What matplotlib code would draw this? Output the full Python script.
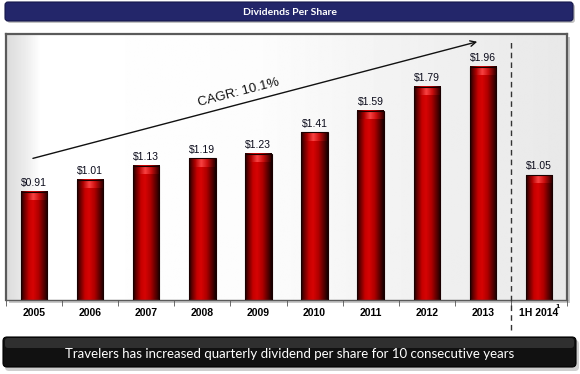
import numpy as np
import matplotlib.pyplot as plt
from matplotlib.patches import FancyBboxPatch, Rectangle
from matplotlib.colors import LinearSegmentedColormap

years = ["2005", "2006", "2007", "2008", "2009", "2010", "2011", "2012", "2013", "1H 2014"]
dividends = [0.91, 1.01, 1.13, 1.19, 1.23, 1.41, 1.59, 1.79, 1.96, 1.05]
title = "Dividends Per Share"
footer = "Travelers has increased quarterly dividend per share for 10 consecutive years"
cagr_label = "CAGR: 10.1%"

W, H = 580, 374
fig = plt.figure(figsize=(W / 100, H / 100), dpi=100)

# background layer in pixel coordinates
bg = fig.add_axes([0, 0, 1, 1])
bg.set_xlim(0, W)
bg.set_ylim(H, 0)
bg.axis("off")

# title banner
bg.add_patch(FancyBboxPatch((7, 4), 568, 19, boxstyle="round,pad=0,rounding_size=3",
                            fc="#9a9a9a", ec="none", alpha=0.6))
bg.add_patch(FancyBboxPatch((5, 2), 568, 19, boxstyle="round,pad=0,rounding_size=3",
                            fc="#23266a", ec="#15174a", lw=0.8))
bg.text(290, 12, title, color="white", fontsize=7.5, fontweight="bold",
        family=["Lato", "DejaVu Sans"], ha="center", va="center")

# footer banner
bg.add_patch(FancyBboxPatch((5, 340), 574, 31, boxstyle="round,pad=0,rounding_size=4",
                            fc="#b0b0b0", ec="none", alpha=0.6))
bg.add_patch(FancyBboxPatch((3, 337), 573, 30, boxstyle="round,pad=0,rounding_size=4",
                            fc="#111111", ec="#000000", lw=0.8))
bg.add_patch(FancyBboxPatch((5, 338), 569, 10, boxstyle="round,pad=0,rounding_size=3",
                            fc="#555555", ec="none", alpha=0.45))
bg.text(290, 354, footer, color="white", fontsize=9.5,
        family=["Lato", "DejaVu Sans"], ha="center", va="center")

# panel shadow
bg.add_patch(Rectangle((9, 37), 561, 266, fc="#c8c8c8", ec="none"))

# main chart axes
x0, x1, y0, y1 = 6, 567, 34, 300
ax = fig.add_axes([x0 / W, (H - y1) / H, (x1 - x0) / W, (y1 - y0) / H])
xpos = np.arange(len(years))
xmin, xmax = -0.5, len(years) - 0.5
ymax = 2.235

# panel gradient background
cols = np.linspace(0, 1, 400)
shade = np.interp(cols, [0, 0.01, 0.035, 0.06, 0.45, 0.7, 1.0],
                  [0.86, 0.88, 0.93, 1.0, 0.99, 0.95, 0.91])
ax.imshow(np.tile(shade, (2, 1)), cmap="gray", vmin=0, vmax=1, aspect="auto",
          extent=[xmin, xmax, 0, ymax], zorder=0, interpolation="bilinear")

# bars with cylinder shading
bar_cmap = LinearSegmentedColormap.from_list(
    "cyl", [(0, "#1a0000"), (0.12, "#6a0000"), (0.3, "#c80000"), (0.45, "#d60404"),
            (0.65, "#b00000"), (0.85, "#5a0000"), (1, "#150000")])
cap_cmap = LinearSegmentedColormap.from_list(
    "cap", [(0, "#3a0000"), (0.2, "#b00000"), (0.45, "#ff4a4a"),
            (0.7, "#d01010"), (1, "#3a0000")])
bw = 0.47
grad = np.linspace(0, 1, 64).reshape(1, -1)
for xi, v in zip(xpos, dividends):
    ax.imshow(grad, cmap=bar_cmap, aspect="auto", interpolation="bilinear",
              extent=[xi - bw / 2, xi + bw / 2, 0, v], zorder=2)
    ax.imshow(grad, cmap=cap_cmap, aspect="auto", interpolation="bilinear",
              extent=[xi - bw / 2 + 0.02, xi + bw / 2 - 0.02, v - 0.07, v - 0.01],
              zorder=3, alpha=0.9)
    ax.add_patch(Rectangle((xi - bw / 2, 0), bw, v, fc="none", ec="#1a0000",
                           lw=0.8, zorder=4))
    ax.text(xi, v + 0.03, f"${v:.2f}", ha="center", va="bottom", fontsize=7.5,
            color="#0a0a1a", family=["Liberation Sans", "DejaVu Sans"], zorder=5)

# dashed separator before the half-year bar
sep = (xpos[-2] + xpos[-1]) / 2
ax.plot([sep, sep], [-0.25, ymax - 0.05], ls=(0, (4, 3)), color="#333333",
        lw=1, clip_on=False, zorder=5)

# CAGR arrow
ax.annotate("", xy=(7.9, 2.17), xytext=(-0.02, 1.19),
            arrowprops=dict(arrowstyle="->", color="#111111", lw=1,
                            shrinkA=0, shrinkB=0), zorder=5)
ax.text(3.65, 1.74, cagr_label, rotation=14.5, ha="center", va="center",
        fontsize=9.5, color="#111111", family=["Liberation Sans", "DejaVu Sans"],
        rotation_mode="anchor", zorder=5)

ax.set_xlim(xmin, xmax)
ax.set_ylim(0, ymax)
ax.set_yticks([])
ax.set_xticks(xpos)
ax.set_xticklabels(years, fontsize=7.5, fontweight="bold",
                   family=["Liberation Sans", "DejaVu Sans"])
ax.tick_params(axis="x", length=0, pad=6)
ax.set_xticks(np.arange(xmin, xmax + 0.5), minor=True)
ax.tick_params(axis="x", which="minor", length=4, color="#555555", direction="out")
ax.annotate("1", xy=(xpos[-1], 0), xytext=(12, -5), textcoords="offset points",
            fontsize=4.5, fontweight="bold", ha="left", va="center",
            annotation_clip=False)

for side in ["left", "top", "right"]:
    ax.spines[side].set_color("#5a5a5a")
    ax.spines[side].set_linewidth(1.6)
ax.spines["bottom"].set_color("#5a5a5a")
ax.spines["bottom"].set_linewidth(1)

fig.savefig("out.png", dpi=100)
